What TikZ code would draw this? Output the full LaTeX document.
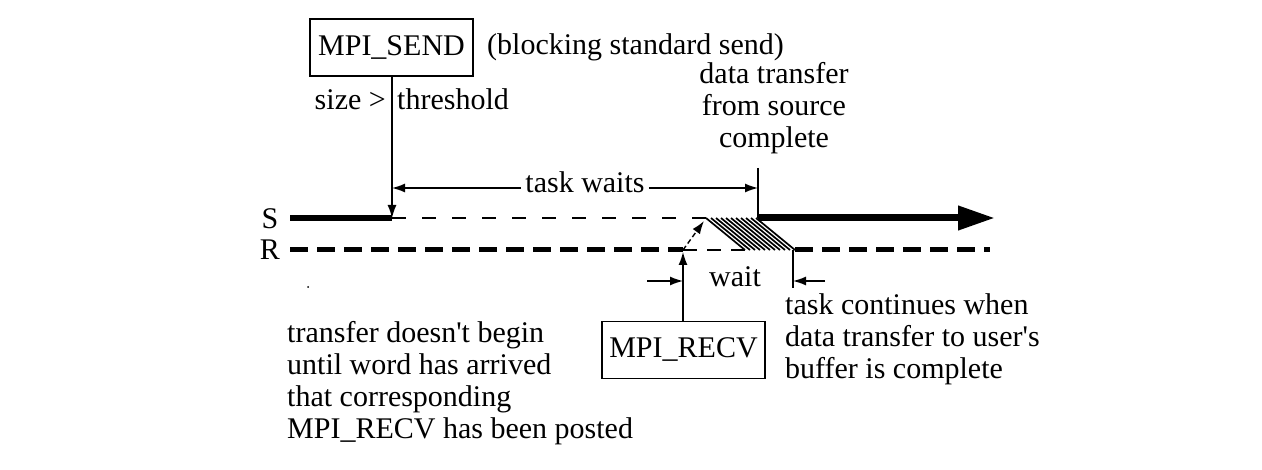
\documentclass[tikz,border=0pt]{standalone}
\usepackage{fontspec}
\setmainfont{Liberation Serif}
\usetikzlibrary{arrows.meta,calc}
\begin{document}
\begin{tikzpicture}[x=1pt,y=-1pt,
  txt/.style={inner sep=0pt,font=\fontsize{30}{32}\selectfont},
  box/.style={draw,line width=1.6pt,inner sep=0pt,minimum width=163pt,minimum height=57pt},
  thinln/.style={line width=1.4pt},
  arr/.style={thinln,-{Latex[length=13pt,width=9pt]}},
  thickdash/.style={line width=5pt,dash pattern=on 18pt off 9pt},
  thindash/.style={line width=1.4pt,dash pattern=on 14pt off 16pt},
]
\useasboundingbox (0,0) rectangle (1262,470);

% boxes
\node[box,txt] (send) at (391.5,47.5) {MPI\_SEND};
\node[box,txt] (recv) at (683.5,350) {MPI\_RECV};

% labels
\node[txt,anchor=base west] (blk) at (487,55) {(blocking standard send)};
\node[txt,anchor=base east] (size) at (386,110) {size >};
\node[txt,anchor=base west] (thr) at (397,110) {threshold};
\node[txt,anchor=base,inner xsep=4pt] (tw) at (585,193) {task waits};
\node[txt,anchor=north,align=center] (dtc) at (774,62) {data transfer\\from source\\complete};
\node[txt,anchor=base] (wt) at (735,287) {wait};
\node[txt,anchor=north west,align=left] (tc) at (785,293) {task continues when\\data transfer to user\textquotesingle s\\buffer is complete};
\node[txt,anchor=north west,align=left] (tdb) at (287,321) {transfer doesn\textquotesingle t begin\\until word has arrived\\that corresponding\\MPI\_RECV has been posted};
\node[txt,anchor=center] (S) at (270,219) {S};
\node[txt,anchor=center] (R) at (270,250) {R};

% coordinates
\coordinate (s0) at (290,218);
\coordinate (s1) at (392,218);
\coordinate (h0) at (706,218);
\coordinate (s2) at (758,218);
\coordinate (s3) at (995,218);
\coordinate (r0) at (290,250);
\coordinate (r1) at (683,250);
\coordinate (r2) at (745,250);
\coordinate (r3) at (795,250);
\coordinate (r4) at (990,250);
\coordinate (twl) at (392,188);
\coordinate (twr) at (758,188);
\coordinate (tick) at (758,168);
\coordinate (wl0) at (647,281);
\coordinate (wl1) at (683,281);
\coordinate (wr0) at (825,281);
\coordinate (wr1) at (793,281);
\coordinate (wv0) at (793,250);
\coordinate (wv1) at (793,288);
\coordinate (da1) at (704,221);

% S line
\draw[line width=6pt] (s0) -- (s1);
\draw[thindash] (s1) -- (h0);
\draw[line width=7pt,-{Triangle[length=37pt,width=23pt]}] (s2) -- (s3);
% hatch
\foreach \i in {0,...,10}{
  \draw[line width=1.7pt] ($(706,218)+(5*\i,0)$) -- ($(745,250)+(5*\i,0)$);
}
% R line
\draw[thickdash] (r0) -- (r1);
\draw[thindash,dash pattern=on 14pt off 10pt] (r1) -- (r2);
\draw[thickdash] (r3) -- (r4);

% connectors
\draw[arr] (send.south -| s1) -- (s1);
\draw[arr] (recv.north -| r1) -- ($(r1)+(0,2)$);
\draw[thinln,dash pattern=on 5pt off 3pt,-{Latex[length=13pt,width=9pt]}] (r1) -- (da1);
\draw[thinln] (tick) -- (s2);
\draw[arr] (tw.west |- twl) -- (twl);
\draw[arr] (tw.east |- twr) -- (twr);
\draw[arr] (wl0) -- (wl1);
\draw[thinln] (wv0) -- (wv1);
\draw[arr] (wr0) -- (wr1);

\fill (308,287) circle (1pt);
\end{tikzpicture}
\end{document}
